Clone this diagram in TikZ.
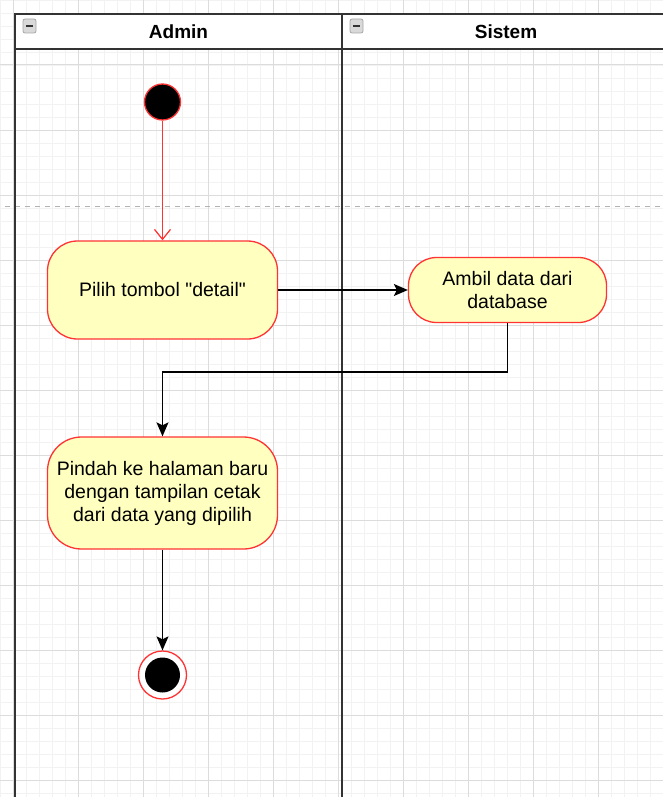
\documentclass[tikz,border=0pt]{standalone}
\usepackage{fontspec}
\setmainfont{Liberation Sans}
\newfontfamily\lurus{Liberation Sans}
\usetikzlibrary{positioning,arrows.meta}
\definecolor{kuning}{HTML}{FFFFC0}
\definecolor{merah}{HTML}{FF3333}
\definecolor{garis}{HTML}{333333}
\definecolor{gridmajor}{HTML}{DCDCDC}
\definecolor{gridminor}{HTML}{F2F2F2}
\tikzset{
	aksi/.style={draw=merah, fill=kuning, line width=1.3pt, rounded corners=30pt, align=center, inner sep=0pt, font=\fontsize{19.5}{23}\selectfont},
	alur/.style={draw=black, line width=1.3pt, -{Stealth[length=14pt,width=12pt,inset=3pt]}},
	judul/.style={font=\bfseries\fontsize{19}{23}\selectfont},
	ikon/.style={draw=gray!70, fill=gray!30, line width=0.8pt, rounded corners=2pt}
}

\begin{document}
\begin{tikzpicture}[x=1pt,y=-1pt]
		\useasboundingbox (0,0) rectangle (663,797);
		% grid
		\foreach \gx in {0,13,...,663} \draw[gridminor,line width=0.8pt] (\gx,0) -- (\gx,797);
		\foreach \gy in {0,13,...,797} \draw[gridminor,line width=0.8pt] (0,\gy) -- (663,\gy);
		\foreach \gx in {13,78,...,663} \draw[gridmajor,line width=1pt] (\gx,0) -- (\gx,797);
		\foreach \gy in {0,65,...,797} \draw[gridmajor,line width=1pt] (0,\gy) -- (663,\gy);
		\draw[gray!60,line width=1pt,dash pattern=on 5pt off 5pt] (5,206) -- (663,206);
		% lanes
		\draw[garis,line width=2pt,fill=white] (15,14) rectangle (670,49);
		\draw[garis,line width=2pt] (15,14) -- (15,797);
		\draw[garis,line width=2pt] (342,14) -- (342,797);
		\draw[ikon] (23,19) rectangle (36,33);
		\draw[garis,line width=1.5pt] (26,26) -- (33,26);
		\draw[ikon] (350,19) rectangle (363,33);
		\draw[garis,line width=1.5pt] (353,26) -- (360,26);
		\node[judul] (admin) at (178.5,32) {Admin};
		\node[judul] (sistem) at (506,32) {Sistem};
		% activity
		\node[circle,fill=black,draw=merah,line width=1.3pt,minimum size=36pt,inner sep=0pt] (mulai) at (162.5,102) {};
		\node[aksi,minimum width=230pt,minimum height=98pt] (pilih) at (162.5,290) {Pilih tombol {\lurus"}detail{\lurus"}};
		\node[aksi,rounded corners=28pt,minimum width=198pt,minimum height=65pt] (ambil) at (507.5,290) {Ambil data dari\\database};
		\node[aksi,rounded corners=34pt,minimum width=230pt,minimum height=112pt] (pindah) at (162.5,493) {Pindah ke halaman baru\\dengan tampilan cetak\\dari data yang dipilih};
		\node[circle,draw=merah,fill=white,line width=1.3pt,minimum size=48pt,inner sep=0pt] (selesai) at (162.5,675) {};
		\node[circle,fill=black,minimum size=35pt,inner sep=0pt] (selesaiisi) at (selesai) {};
		\coordinate (belok) at (162.5,372);
		\draw[merah,line width=1.2pt,-{Straight Barb[length=10pt,width=16pt]}] (mulai) -- (pilih);
		\draw[alur] (pilih) -- (ambil);
		\draw[alur] (ambil.south) |- (belok) -- (pindah.north);
		\draw[alur] (pindah) -- (selesai);
	\end{tikzpicture}
\end{document}
